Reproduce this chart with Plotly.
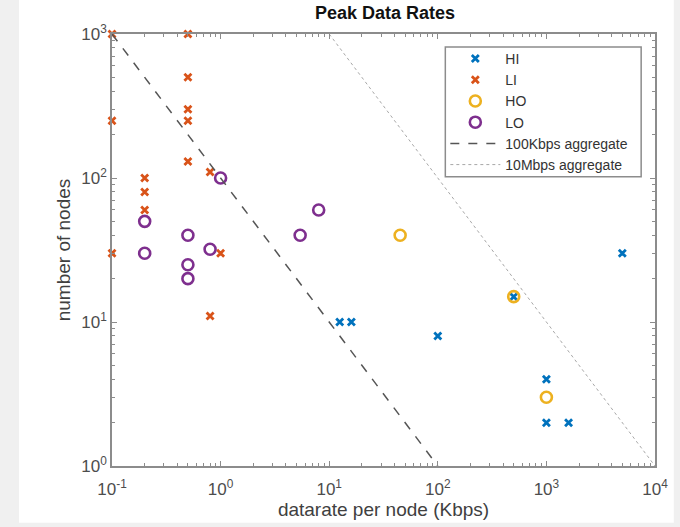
import plotly.graph_objects as go

# Peak data rates per node (Kbps) vs. number of nodes
hi_rate = [12.5, 16, 100, 500, 1000, 1000, 1600, 5000]
hi_nodes = [10, 10, 8, 15, 4, 2, 2, 30]

li_rate = [0.1, 0.5, 0.5, 0.5, 0.5, 0.1, 0.5, 0.2, 0.2, 0.2, 0.8, 1.0, 0.1, 0.8]
li_nodes = [1000, 1000, 500, 300, 250, 250, 130, 100, 80, 60, 110, 30, 30, 11]

ho_rate = [45, 500, 1000]
ho_nodes = [40, 15, 3]

lo_rate = [1.0, 0.2, 0.2, 0.5, 0.8, 0.5, 0.5, 5.4, 8]
lo_nodes = [100, 50, 30, 40, 32, 25, 20, 40, 60]

# Aggregate-throughput guide lines: nodes = aggregate / rate
agg_100k = 100.0
agg_10m = 10000.0
agg_100k_rate = [0.1, 100]
agg_10m_rate = [10, 10000]

x_ticks = [0.1, 1, 10, 100, 1000, 10000]
x_ticktext = ["10<sup>-1</sup>", "10<sup>0</sup>", "10<sup>1</sup>",
              "10<sup>2</sup>", "10<sup>3</sup>", "10<sup>4</sup>"]
y_ticks = [1, 10, 100, 1000]
y_ticktext = ["10<sup>0</sup>", "10<sup>1</sup>", "10<sup>2</sup>", "10<sup>3</sup>"]

# minor ticks at 2..9 within each decade
x_minor = [m * 10.0 ** k for k in range(-1, 4) for m in range(2, 10)]
y_minor = [m * 10.0 ** k for k in range(0, 3) for m in range(2, 10)]

BLUE = "#0072BD"
ORANGE = "#D95319"
YELLOW = "#EDB120"
PURPLE = "#7E2F8E"

FONT = "Liberation Sans, Arial, sans-serif"
AXIS_GRAY = "#8c8c8c"

# plot-area geometry (pixels)
W, H = 680, 527
ML, MR, MT, MB = 112, 19, 34, 60
PW, PH = W - ML - MR, H - MT - MB


def px_x(p):
    return (p - ML) / PW


def px_y(p):
    return (H - MB - p) / PH


fig = go.Figure()

xm = dict(symbol="x-thin-open", size=7)
om = dict(symbol="circle-open", size=11)

fig.add_trace(go.Scatter(x=hi_rate, y=hi_nodes, mode="markers", name="HI",
                         marker=dict(**xm, color=BLUE, line=dict(width=2.8, color=BLUE)),
                         cliponaxis=False))
fig.add_trace(go.Scatter(x=li_rate, y=li_nodes, mode="markers", name="LI",
                         marker=dict(**xm, color=ORANGE, line=dict(width=2.8, color=ORANGE)),
                         cliponaxis=False))
fig.add_trace(go.Scatter(x=ho_rate, y=ho_nodes, mode="markers", name="HO",
                         marker=dict(**om, color=YELLOW, line=dict(width=2.6, color=YELLOW)),
                         cliponaxis=False))
fig.add_trace(go.Scatter(x=lo_rate, y=lo_nodes, mode="markers", name="LO",
                         marker=dict(**om, color=PURPLE, line=dict(width=2.6, color=PURPLE)),
                         cliponaxis=False))
fig.add_trace(go.Scatter(x=agg_100k_rate, y=[agg_100k / r for r in agg_100k_rate],
                         mode="lines", name="100Kbps aggregate",
                         line=dict(color="#555555", width=1.5, dash="dash")))
fig.add_trace(go.Scatter(x=agg_10m_rate, y=[agg_10m / r for r in agg_10m_rate],
                         mode="lines", name="10Mbps aggregate",
                         line=dict(color="#a8a8a8", width=1, dash="dot")))

axis_common = dict(
    type="log", showgrid=False, zeroline=False,
    showline=True, linecolor=AXIS_GRAY, linewidth=1.5, mirror="allticks",
    ticks="inside", ticklen=5, tickcolor=AXIS_GRAY, tickwidth=1,
    tickfont=dict(family=FONT, size=17, color="#4d4d4d"),
)

fig.update_xaxes(**axis_common, range=[-1, 4], tickmode="array",
                 tickvals=x_ticks, ticktext=x_ticktext, ticklabelstandoff=7,
                 minor=dict(tickmode="array", tickvals=x_minor, ticks="inside",
                            ticklen=3, tickcolor=AXIS_GRAY, tickwidth=1, showgrid=False),
                 title=dict(text="datarate per node (Kbps)", standoff=3,
                            font=dict(family=FONT, size=19, color="#404040")))
fig.update_yaxes(**axis_common, range=[0, 3], tickmode="array",
                 tickvals=y_ticks, ticktext=y_ticktext,
                 minor=dict(tickmode="array", tickvals=y_minor, ticks="inside",
                            ticklen=3, tickcolor=AXIS_GRAY, tickwidth=1, showgrid=False),
                 title=dict(text="number of nodes", standoff=6,
                            font=dict(family=FONT, size=19, color="#404040")))

fig.update_layout(
    width=W, height=H,
    margin=dict(l=ML, r=MR, t=MT, b=MB),
    paper_bgcolor="#f0f0f0", plot_bgcolor="white",
    title=dict(text="<b>Peak Data Rates</b>", x=385 / W,
               xanchor="center", y=0.975, yanchor="middle",
               font=dict(family=FONT, size=18, color="#111111")),
    legend=dict(x=px_x(449), y=px_y(43), xanchor="left", yanchor="top",
                bgcolor="rgba(0,0,0,0)", borderwidth=0,
                font=dict(family=FONT, size=14, color="#333333"),
                itemwidth=50, tracegroupgap=0),
    showlegend=True,
    shapes=[
        # white figure panel
        dict(type="rect", xref="paper", yref="paper",
             x0=px_x(18), x1=px_x(680), y0=px_y(524), y1=px_y(0),
             fillcolor="white", line=dict(width=0), layer="below"),
        # legend frame
        dict(type="rect", xref="paper", yref="paper",
             x0=px_x(449), x1=px_x(647), y0=px_y(177), y1=px_y(47),
             fillcolor="white", line=dict(width=1.5, color=AXIS_GRAY), layer="above"),
    ],
)

fig.write_html("out.html")
